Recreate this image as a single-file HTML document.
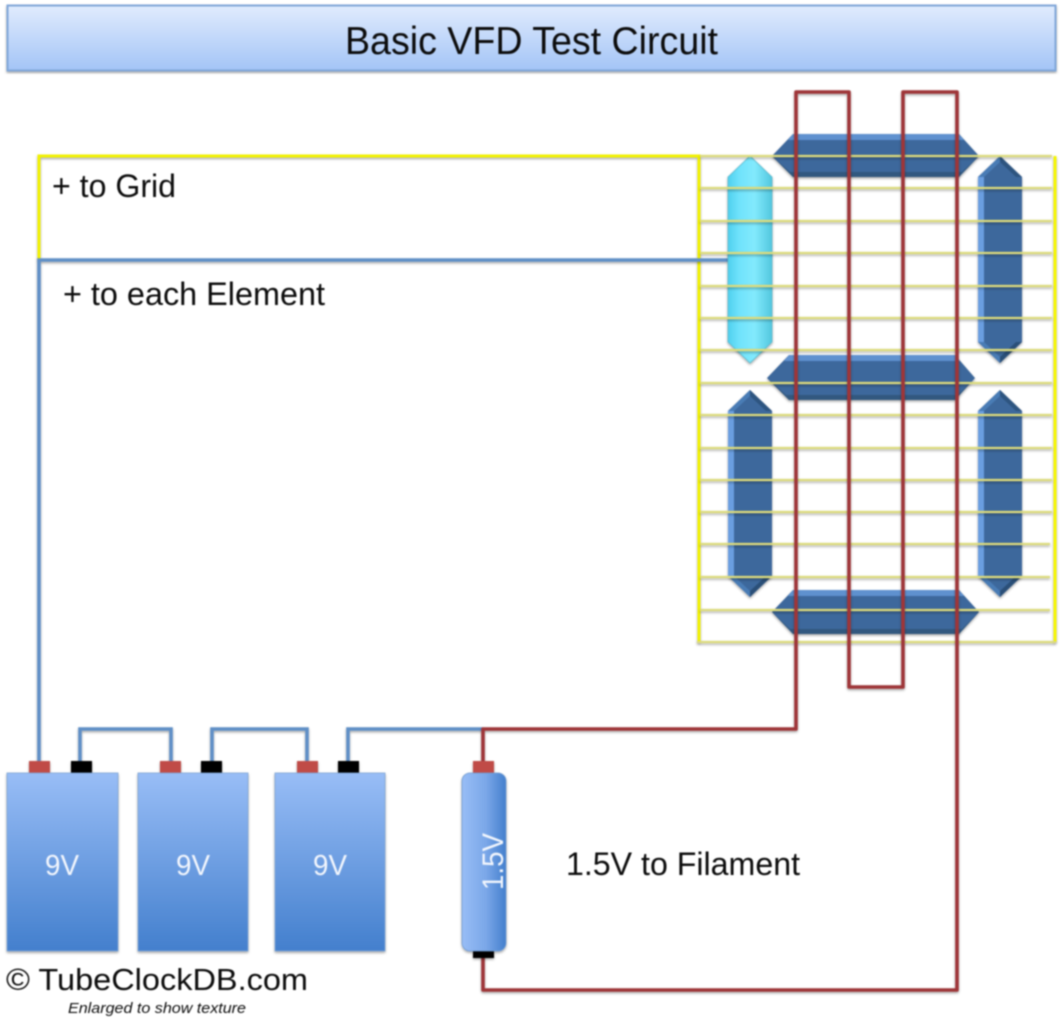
<!DOCTYPE html>
<html><head><meta charset="utf-8"><style>
html,body{margin:0;padding:0;background:#fff;width:1064px;height:1024px;overflow:hidden}
svg{display:block;filter:blur(.7px)}
text{font-family:"Liberation Sans",sans-serif;fill:#0c0c0c}
</style></head><body>
<svg width="1064" height="1024" viewBox="0 0 1064 1024" xmlns="http://www.w3.org/2000/svg">
<defs>
<linearGradient id="title" x1="0" y1="0" x2="0" y2="1"><stop offset="0" stop-color="#e0ebfd"/><stop offset="1" stop-color="#a3c4f6"/></linearGradient>
<linearGradient id="bat" x1="0" y1="0" x2="0" y2="1"><stop offset="0" stop-color="#98bdf6"/><stop offset="1" stop-color="#437fcd"/></linearGradient>
<linearGradient id="cell" x1="0" y1="0" x2="1" y2="0"><stop offset="0" stop-color="#98bdf6"/><stop offset=".55" stop-color="#7aa7e8"/><stop offset="1" stop-color="#437fcd"/></linearGradient>
<linearGradient id="cy" x1="0" y1="0" x2="1" y2="0"><stop offset="0" stop-color="#4fd0ee"/><stop offset=".25" stop-color="#6fe2fb"/><stop offset=".6" stop-color="#82eafd"/><stop offset="1" stop-color="#52c6de"/></linearGradient>
<filter id="sh" x="-5%" y="-5%" width="110%" height="110%"><feDropShadow dx="0" dy="1.5" stdDeviation="1.2" flood-color="#000" flood-opacity=".35"/></filter>
<g id="vseg"><polygon points="22,0 44,21 44,186 22,207 0,186 0,21" fill="#3c689c"/>
<polygon points="0,21 6,21 6,186 0,186" fill="#6a9ee0"/>
<polygon points="22,0 44,21 38,21 22,6" fill="#2e5480"/>
<polygon points="22,0 0,21 6,21 22,6" fill="#4a7bb5"/>
<polygon points="0,186 6,186 22,201 22,207" fill="#4a7bb5"/>
<polygon points="44,186 38,186 22,201 22,207" fill="#2c4f78"/></g>
</defs>
<rect width="1064" height="1024" fill="#fff"/>
<!-- title -->
<rect x="7.5" y="5.5" width="1048" height="65" fill="url(#title)" stroke="#7fa6d8" stroke-width="2" filter="url(#sh)"/>
<text x="345" y="54" font-size="39" textLength="373" lengthAdjust="spacingAndGlyphs">Basic VFD Test Circuit</text>
<!-- yellow grid wire -->
<g filter="url(#sh)">
<path d="M39 260V156H699V642" fill="none" stroke="#f2f200" stroke-width="3"/>
<path d="M1055 156V642" fill="none" stroke="#f6f600" stroke-width="3"/>
</g>
<!-- blue wires -->
<g fill="none" stroke="#5f8fc6" stroke-width="3.6" filter="url(#sh)">
<path d="M39 765V260H728"/>
<path d="M80 765V729H171V765"/>
<path d="M212 765V729H307V765"/>
<path d="M348 765V729H483"/>
</g>
<!-- segments -->
<g filter="url(#sh)">
<polygon points="772,156 793,134 959,134 979,156 959,177 793,177" fill="#3c689c"/>
<polygon points="793,134 959,134 964,140 788,140" fill="#5f91cf"/>
<polygon points="772,156 793,177 959,177 979,156 962,172 790,172" fill="#31587f"/>
<polygon points="767,378 789,355 955,355 975,378 955,400 789,400" fill="#3c689c"/>
<polygon points="789,355 955,355 960,361 784,361" fill="#5f91cf"/>
<polygon points="767,378 789,400 955,400 975,378 958,395 786,395" fill="#31587f"/>
<polygon points="772,612 793,590 959,590 979,612 959,634 793,634" fill="#3c689c"/>
<polygon points="793,590 959,590 964,596 788,596" fill="#5f91cf"/>
<polygon points="772,612 793,634 959,634 979,612 962,629 790,629" fill="#31587f"/>
<polygon points="750,156 772,177 772,342 750,363 728,342 728,177" fill="url(#cy)" stroke="#58b8cc" stroke-width=".8"/>
<use href="#vseg" x="978" y="156"/>
<use href="#vseg" x="728" y="390"/>
<use href="#vseg" x="978" y="390"/>
</g>
<!-- grid horizontals -->
<g stroke="#dcdb7c" stroke-width="2.2" filter="url(#sh)">
<path d="M700 156H1052M700 188H1052M700 221H1052M700 253H1052M700 286H1052M700 318H1052M700 350H1052M700 383H1052M700 415H1052M700 448H1052M700 480H1052M700 512H1052M700 544H1050M700 577H1050M700 610H1050M697 642H1056"/>
</g>
<!-- filament -->
<g fill="none" stroke="#9e3637" stroke-width="3.6" stroke-linejoin="round" filter="url(#sh)">
<path d="M483 765V729H796V92H849V687H903V92H957V990H483V955"/>
</g>
<!-- batteries -->
<g filter="url(#sh)">
<rect x="29" y="761" width="21" height="12" fill="#c04c47"/><rect x="71" y="761" width="21" height="12" fill="#000"/>
<rect x="160" y="761" width="21" height="12" fill="#c04c47"/><rect x="201" y="761" width="21" height="12" fill="#000"/>
<rect x="297" y="761" width="21" height="12" fill="#c04c47"/><rect x="338" y="761" width="21" height="12" fill="#000"/>
<rect x="473" y="761" width="21" height="12" fill="#c04c47"/><rect x="473" y="951" width="21" height="7" fill="#000"/>
<rect x="7" y="773" width="111" height="178" fill="url(#bat)" stroke="#7ea4d4" stroke-width=".8"/>
<rect x="138" y="773" width="110" height="178" fill="url(#bat)" stroke="#7ea4d4" stroke-width=".8"/>
<rect x="275" y="773" width="110" height="178" fill="url(#bat)" stroke="#7ea4d4" stroke-width=".8"/>
<rect x="462" y="773" width="44" height="178" rx="8" fill="url(#cell)" stroke="#6f9ad0" stroke-width=".8"/>
</g>
<g>
<text x="45" y="875" font-size="29" textLength="34" lengthAdjust="spacingAndGlyphs" style="fill:#f2f6fd">9V</text>
<text x="176" y="875" font-size="29" textLength="34" lengthAdjust="spacingAndGlyphs" style="fill:#f2f6fd">9V</text>
<text x="313" y="875" font-size="29" textLength="34" lengthAdjust="spacingAndGlyphs" style="fill:#f2f6fd">9V</text>
<text transform="translate(503,890) rotate(-90)" font-size="30" textLength="57" lengthAdjust="spacingAndGlyphs" style="fill:#f2f6fd">1.5V</text>
</g>
<!-- labels -->
<text x="52" y="197" font-size="32" textLength="124" lengthAdjust="spacingAndGlyphs">+ to Grid</text>
<text x="63" y="305" font-size="32" textLength="262" lengthAdjust="spacingAndGlyphs">+ to each Element</text>
<text x="566" y="875" font-size="32" textLength="234" lengthAdjust="spacingAndGlyphs">1.5V to Filament</text>
<text x="6" y="990" font-size="31" textLength="302" lengthAdjust="spacingAndGlyphs">© TubeClockDB.com</text>
<text x="68" y="1013" font-size="15" font-style="italic" textLength="178" lengthAdjust="spacingAndGlyphs">Enlarged to show texture</text>
</svg>
</body></html>
